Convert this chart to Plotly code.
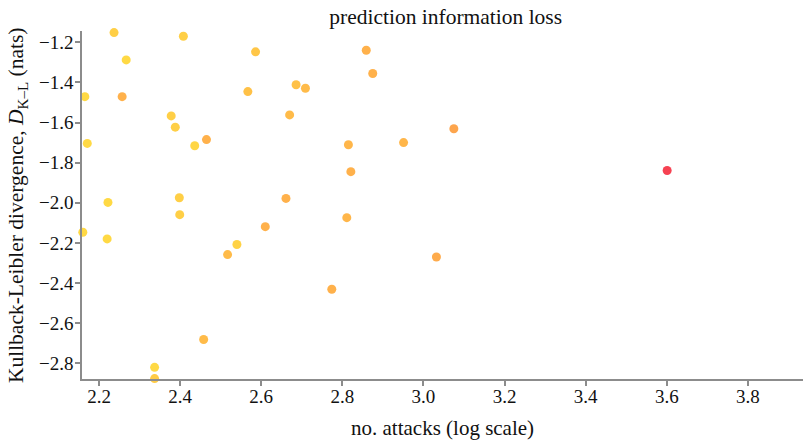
import plotly.graph_objects as go

# no. attacks (log scale)
log_attacks = [2.165, 2.237, 2.267, 2.257, 2.171, 2.408, 2.586, 2.378, 2.388, 2.436,
               2.465, 2.567, 2.686, 2.709, 2.670, 2.859, 2.875, 2.815, 2.821, 2.951,
               3.075, 3.601, 2.222, 2.398, 2.661, 2.399, 2.811, 2.160, 2.220, 2.610,
               2.517, 2.540, 2.774, 2.458, 2.337, 2.337, 3.032]
# Kullback-Leibler divergence (nats)
kl_div = [-1.471, -1.152, -1.288, -1.471, -1.704, -1.170, -1.248, -1.567, -1.623, -1.716,
          -1.685, -1.446, -1.412, -1.429, -1.562, -1.240, -1.356, -1.711, -1.845, -1.700,
          -1.631, -1.839, -1.998, -1.975, -1.978, -2.059, -2.074, -2.147, -2.180, -2.119,
          -2.258, -2.208, -2.431, -2.681, -2.820, -2.876, -2.270]
# colour intensity (yellow -> red)
intensity = [0.05, 0.2, 0.05, 0.5, 0.05, 0.2, 0.3, 0.2, 0.2, 0.1,
             0.5, 0.35, 0.35, 0.4, 0.4, 0.5, 0.5, 0.45, 0.5, 0.45,
             0.6, 1.0, 0.05, 0.2, 0.5, 0.2, 0.45, 0.05, 0.05, 0.5,
             0.4, 0.15, 0.5, 0.4, 0.05, 0.25, 0.55]

x_ticks = [2.2, 2.4, 2.6, 2.8, 3.0, 3.2, 3.4, 3.6, 3.8]
y_ticks = [-1.2, -1.4, -1.6, -1.8, -2.0, -2.2, -2.4, -2.6, -2.8]

font = "Liberation Serif, Times New Roman, serif"
axis_col = "#8c8c8c"

fig = go.Figure(go.Scatter(
    x=log_attacks, y=kl_div, mode="markers", cliponaxis=False,
    marker=dict(size=9, color=intensity, cmin=0, cmax=1, opacity=0.88,
                colorscale=[[0, "#ffd82a"], [0.25, "#ffc42c"], [0.5, "#ffa632"],
                            [0.7, "#fb8a36"], [1, "#f5283a"]],
                line=dict(width=0)),
    hoverinfo="x+y"))

fig.update_layout(
    width=803, height=440,
    margin=dict(l=82, r=0, t=31, b=61),
    paper_bgcolor="white", plot_bgcolor="white",
    showlegend=False,
    font=dict(family=font, size=19, color="#111"),
    title=dict(text="prediction information loss", x=0.555, xanchor="center",
               y=0.962, yanchor="middle", font=dict(family=font, size=21.5, color="#111")),
    annotations=[
        dict(text="no. attacks (log scale)", xref="paper", yref="paper",
             x=0.5, y=-0.14, xanchor="center", yanchor="middle", showarrow=False,
             font=dict(family=font, size=21, color="#111")),
        dict(text="Kullback-Leibler divergence, <i>D</i><sub>K\u2013L</sub> (nats)",
             xref="paper", yref="paper", x=-0.09, y=0.5, xanchor="center", yanchor="middle",
             textangle=-90, showarrow=False, font=dict(family=font, size=21.5, color="#111")),
    ],
)
fig.update_xaxes(range=[2.158, 3.936], tickvals=x_ticks, ticktext=[f"{v:.1f}" for v in x_ticks],
                 showgrid=False, zeroline=False, showline=True, linecolor=axis_col, linewidth=1.5,
                 ticks="outside", ticklen=5, tickcolor=axis_col, tickwidth=1.5, automargin=False,
                 ticklabelstandoff=-6)
fig.update_yaxes(range=[-2.878, -1.144], tickvals=y_ticks,
                 ticktext=["\u2212" + f"{abs(v):.1f}" for v in y_ticks],
                 showgrid=False, zeroline=False, showline=True, linecolor=axis_col, linewidth=1.5,
                 ticks="outside", ticklen=5, tickcolor=axis_col, tickwidth=1.5, automargin=False,
                 ticklabelstandoff=-2)

fig.write_html("out.html", config={"displayModeBar": False},
               post_script="document.body.style.margin='0';document.body.style.overflow='hidden';")
